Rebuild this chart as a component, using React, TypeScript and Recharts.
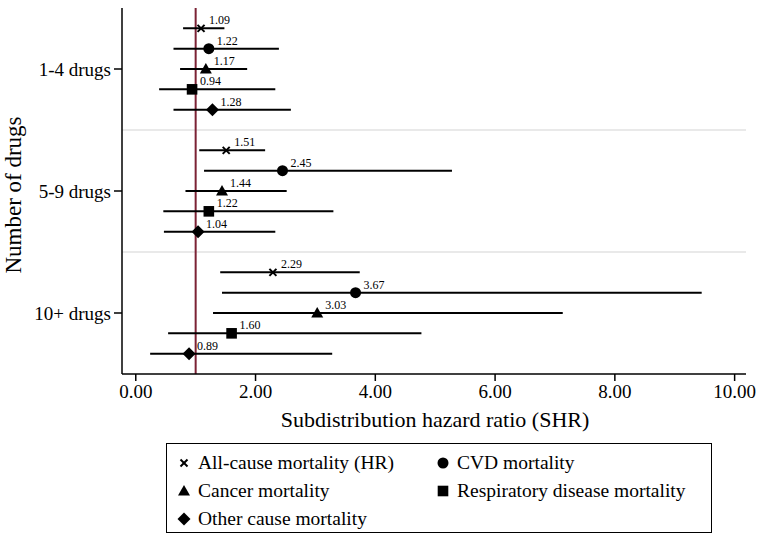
import React from "react"
import { ScatterChart, Scatter, XAxis, YAxis, ErrorBar, ReferenceLine } from "recharts"

const FONT = '"Liberation Serif", "Times New Roman", serif'

const groups = ["1-4 drugs", "5-9 drugs", "10+ drugs"]
const outcomes = [
    "All-cause mortality (HR)",
    "CVD mortality",
    "Cancer mortality",
    "Respiratory disease mortality",
    "Other cause mortality",
]
const markers = ["cross", "circle", "triangle", "square", "diamond"]

// estimates per outcome, one value per drug group
const estimates = [
    [1.09, 1.51, 2.29],
    [1.22, 2.45, 3.67],
    [1.17, 1.44, 3.03],
    [0.94, 1.22, 1.6],
    [1.28, 1.04, 0.89],
]
const lower = [
    [0.79, 1.06, 1.41],
    [0.63, 1.14, 1.44],
    [0.74, 0.83, 1.29],
    [0.39, 0.46, 0.54],
    [0.63, 0.47, 0.24],
]
const upper = [
    [1.48, 2.16, 3.74],
    [2.39, 5.28, 9.45],
    [1.86, 2.52, 7.13],
    [2.33, 3.3, 4.77],
    [2.59, 2.33, 3.28],
]
const xTicks = [0, 2, 4, 6, 8, 10]

// y slot: each group takes 6 slots, rows are 1..5 inside it
const seriesData = outcomes.map((_, o) =>
    groups.map((_, g) => ({
        x: estimates[o][g],
        y: g * 6 + o + 1,
        err: [estimates[o][g] - lower[o][g], upper[o][g] - estimates[o][g]],
    }))
)

function Marker({ kind, cx, cy }: { kind: string; cx: number; cy: number }) {
    switch (kind) {
        case "cross":
            return (
                <g stroke="#000" strokeWidth={2}>
                    <line x1={cx - 3.5} y1={cy - 3.5} x2={cx + 3.5} y2={cy + 3.5} />
                    <line x1={cx - 3.5} y1={cy + 3.5} x2={cx + 3.5} y2={cy - 3.5} />
                </g>
            )
        case "circle":
            return <circle cx={cx} cy={cy} r={5.5} fill="#000" />
        case "triangle":
            return <polygon points={`${cx},${cy - 6} ${cx + 6},${cy + 4.5} ${cx - 6},${cy + 4.5}`} fill="#000" />
        case "square":
            return <rect x={cx - 5.3} y={cy - 5.3} width={10.6} height={10.6} fill="#000" />
        default:
            return <polygon points={`${cx},${cy - 6.5} ${cx + 6.5},${cy} ${cx},${cy + 6.5} ${cx - 6.5},${cy}`} fill="#000" />
    }
}

const makeShape = (kind: string) => (props: any) => {
    const { cx, cy, payload } = props
    return (
        <g>
            <Marker kind={kind} cx={cx} cy={cy} />
            <text x={cx + 8} y={cy - 4} fontSize={12} fontFamily={FONT} fill="#000">
                {payload.x.toFixed(2)}
            </text>
        </g>
    )
}

function LegendMark({ kind }: { kind: string }) {
    return (
        <svg width={16} height={16} style={{ display: "block" }}>
            <Marker kind={kind} cx={8} cy={8} />
        </svg>
    )
}

export default function App() {
    const legendPos = [
        { x: 0, y: 0 },
        { x: 259, y: 0 },
        { x: 0, y: 28 },
        { x: 259, y: 28 },
        { x: 0, y: 56 },
    ]
    return (
        <div style={{ position: "absolute", left: 0, top: 0, width: 760, height: 541, background: "#fff", fontFamily: FONT }}>
            <ScatterChart width={760} height={541} margin={{ top: 8, right: 14, left: 0, bottom: 107 }}>
                <XAxis
                    dataKey="x"
                    type="number"
                    domain={[-0.23, 10.19]}
                    allowDataOverflow
                    ticks={xTicks}
                    tickFormatter={(v: number) => v.toFixed(2)}
                    height={60}
                    tickSize={7}
                    tickMargin={4}
                    stroke="#000"
                    strokeWidth={1.5}
                    tick={{ fill: "#000", fontSize: 19, fontFamily: FONT }}
                />
                <YAxis
                    dataKey="y"
                    type="number"
                    domain={[0, 18]}
                    reversed
                    ticks={[3, 9, 15]}
                    tickFormatter={(v: number) => groups[Math.round((v - 3) / 6)]}
                    width={122}
                    tickSize={8}
                    tickMargin={3}
                    stroke="#000"
                    strokeWidth={1.5}
                    tick={{ fill: "#000", fontSize: 19, fontFamily: FONT }}
                />
                <ReferenceLine y={6} stroke="#e2e2e2" strokeWidth={1.5} />
                <ReferenceLine y={12} stroke="#e2e2e2" strokeWidth={1.5} />
                <ReferenceLine x={1} stroke="#7b2235" strokeWidth={2} />
                {seriesData.map((d, i) => (
                    <Scatter key={outcomes[i]} name={outcomes[i]} data={d} shape={makeShape(markers[i])} isAnimationActive={false}>
                        <ErrorBar dataKey="err" direction="x" width={0} stroke="#000" strokeWidth={2} />
                    </Scatter>
                ))}
            </ScatterChart>

            <div style={{ position: "absolute", left: 14, top: 195, transform: "translate(-50%, -50%) rotate(-90deg)", fontSize: 23, whiteSpace: "nowrap" }}>
                Number of drugs
            </div>
            <div style={{ position: "absolute", left: 435, top: 420, transform: "translate(-50%, -50%)", fontSize: 22, whiteSpace: "nowrap" }}>
                Subdistribution hazard ratio (SHR)
            </div>

            <div style={{ position: "absolute", left: 166, top: 443, width: 546, height: 90, border: "1.5px solid #000", boxSizing: "border-box" }}>
                {outcomes.map((name, i) => (
                    <div key={name} style={{ position: "absolute", left: 9 + legendPos[i].x, top: 7 + legendPos[i].y, display: "flex", alignItems: "center", height: 24, fontSize: 19.5, whiteSpace: "nowrap" }}>
                        <LegendMark kind={markers[i]} />
                        <span style={{ marginLeft: 6 }}>{name}</span>
                    </div>
                ))}
            </div>
        </div>
    )
}
